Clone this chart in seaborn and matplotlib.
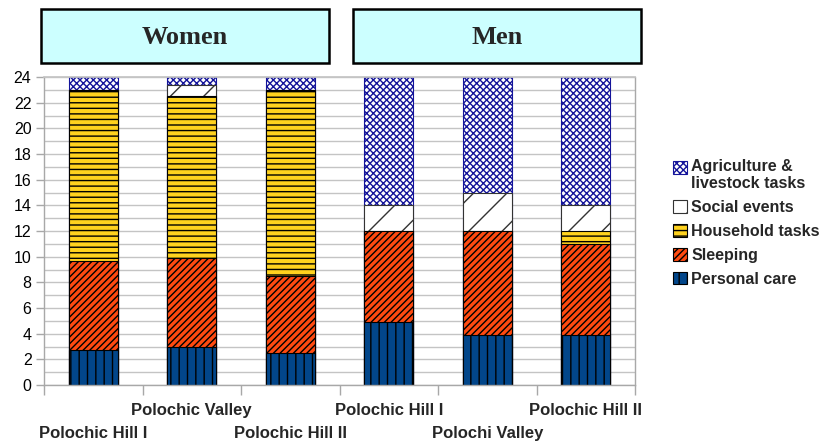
import matplotlib
matplotlib.use("Agg")
import matplotlib.pyplot as plt
import matplotlib.patches as mpatches
from matplotlib.legend_handler import HandlerPatch
from matplotlib.ticker import MultipleLocator, FixedLocator
import numpy as np
import pandas as pd
import seaborn as sns

# Daily time budget (hours) by sex and site
groups = ["Women", "Women", "Women", "Men", "Men", "Men"]
sites = ["Polochic Hill I", "Polochic Valley", "Polochic Hill II",
         "Polochic Hill I", "Polochi Valley", "Polochic Hill II"]
personal_care = [2.7, 3.0, 2.5, 4.9, 3.9, 3.9]
sleeping = [7.0, 6.9, 6.0, 7.1, 8.1, 7.1]
household_tasks = [13.3, 12.6, 14.5, 0.0, 0.0, 1.0]
social_events = [0.0, 0.9, 0.0, 2.0, 3.0, 2.0]
agriculture = [1.0, 0.6, 1.0, 10.0, 9.0, 10.0]

activity_names = ["Personal care", "Sleeping", "Household tasks",
                  "Social events", "Agriculture &\nlivestock tasks"]

sns.set_theme(style="white")
plt.rcParams["font.family"] = ["Liberation Sans", "DejaVu Sans"]
plt.rcParams["hatch.linewidth"] = 1.0

df = pd.DataFrame({
    "group": groups,
    "site": sites,
    "Personal care": personal_care,
    "Sleeping": sleeping,
    "Household tasks": household_tasks,
    "Social events": social_events,
    "Agriculture &\nlivestock tasks": agriculture,
})
df["bar"] = df["group"] + " / " + df["site"]
order = list(df["bar"])

# cumulative tops for stacking (each layer is drawn over the one above it)
cum = df[activity_names].cumsum(axis=1)
for name in activity_names:
    df["top " + name] = cum[name]

styles = {
    "Personal care": dict(face="#02468A", edge="black", hatch="||"),
    "Sleeping": dict(face="#FF4A10", edge="black", hatch="/////"),
    "Household tasks": dict(face="#FFD21E", edge="black", hatch="---"),
    "Social events": dict(face="white", edge="#333333", hatch="/"),
    "Agriculture &\nlivestock tasks": dict(face="white", edge="#14149A", hatch="xxxxx"),
}

fig = plt.figure(figsize=(8.27, 4.43), dpi=100)
ax = fig.add_axes([44 / 827, 58 / 443, (635 - 44) / 827, (385 - 77) / 443])

for name in reversed(activity_names):
    st = styles[name]
    sns.barplot(data=df, x="bar", y="top " + name, order=order,
                color=st["face"], edgecolor=st["edge"], hatch=st["hatch"],
                linewidth=0.8, width=0.5, saturation=1, errorbar=None,
                ax=ax, zorder=2)

ax.set_xlabel("")
ax.set_ylabel("")
ax.set_xlim(-0.5, 5.5)
ax.set_ylim(0, 24)

# y axis: labels every 2 h, gridlines every hour
ax.yaxis.set_major_locator(MultipleLocator(2))
ax.yaxis.set_minor_locator(MultipleLocator(1))
ax.grid(axis="y", which="both", color="#C4C4C4", linewidth=1.0)
ax.set_axisbelow(True)
ax.tick_params(axis="y", which="major", length=6, width=1, color="#A8A8A8",
               labelsize=11.5, labelcolor="black", pad=3, left=True)
ax.tick_params(axis="y", which="minor", length=0)

# x axis: staggered site labels (odd positions on the upper row,
# even positions on a second, lower row), ticks between categories
upper = list(range(1, len(sites), 2))
lower = list(range(0, len(sites), 2))
ax.set_xticks(upper)
ax.set_xticklabels([sites[i] for i in upper], fontsize=12, fontweight="bold")
ax.xaxis.set_minor_locator(FixedLocator(np.arange(-0.5, len(sites), 1.0)))
ax.tick_params(axis="x", which="major", length=0, pad=13)
ax.tick_params(axis="x", which="minor", length=7, width=1, color="#A8A8A8",
               bottom=True)

sec = ax.secondary_xaxis("bottom")
sec.set_xticks(lower)
sec.set_xticklabels([sites[i] for i in lower], fontsize=12, fontweight="bold")
sec.tick_params(axis="x", length=0, pad=29.5)
sec.spines["bottom"].set_visible(False)

for side in ["left", "bottom", "right"]:
    ax.spines[side].set_color("#A8A8A8")
    ax.spines[side].set_linewidth(1.0)
ax.spines["top"].set_color("#C4C4C4")

# group header boxes
for label, x0, x1 in [("Women", 41, 329), ("Men", 353, 641)]:
    rect = mpatches.Rectangle((x0 / 827, 1 - 63 / 443), (x1 - x0) / 827, 54 / 443,
                              transform=fig.transFigure, facecolor="#CCFFFF",
                              edgecolor="black", linewidth=1.8)
    fig.add_artist(rect)
    fig.text((x0 + x1) / 2 / 827, 1 - 37 / 443, label, ha="center", va="center",
             fontsize=19, fontweight="bold", family=["Liberation Serif", "DejaVu Serif"])


# legend keys sit level with the first line of their label
def top_aligned_key(legend, orig_handle, xdescent, ydescent, width, height, fontsize):
    label = orig_handle.get_label() or ""
    shift = label.count("\n") * fontsize * 0.5
    return mpatches.Rectangle((-xdescent, -ydescent + shift), width, height)


handles = []
for name in reversed(activity_names):
    st = styles[name]
    handles.append(mpatches.Patch(facecolor=st["face"], edgecolor=st["edge"],
                                  hatch=st["hatch"], linewidth=0.8, label=name))
fig.legend(handles, [h.get_label() for h in handles], loc="upper left",
           bbox_to_anchor=(673 / 827, 1 - 159 / 443), frameon=False,
           prop={"weight": "bold", "size": 11.5}, handlelength=0.85,
           handleheight=0.85, handletextpad=0.3, labelspacing=0.55,
           borderaxespad=0, borderpad=0,
           handler_map={mpatches.Patch: HandlerPatch(patch_func=top_aligned_key)})

fig.savefig("out.png", dpi=100)
